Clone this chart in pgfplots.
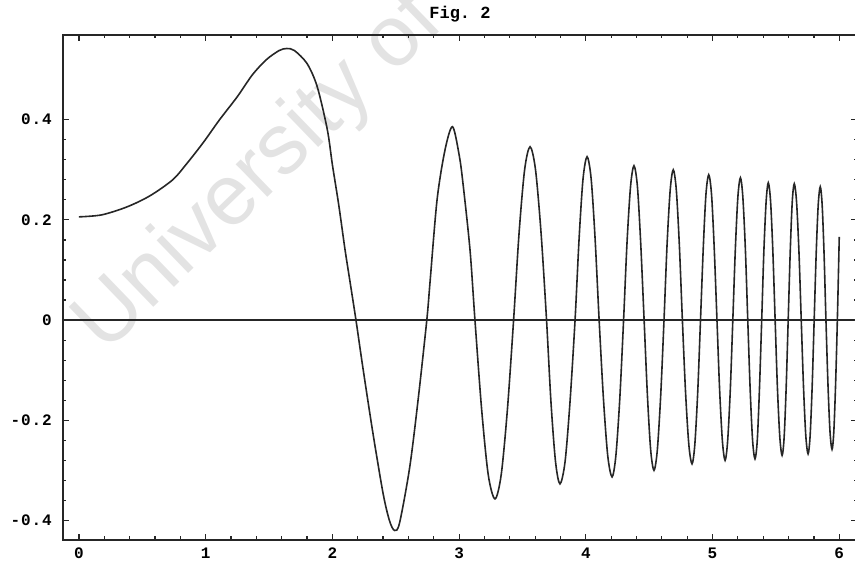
\documentclass[border=0pt]{standalone}
\usepackage{fontspec}
\setmainfont{Liberation Mono}
\newfontfamily\wmfont{Liberation Sans}
\newfontfamily\tickfont[LetterSpace=6]{Liberation Mono}
\usepackage{pgfplots}
\pgfplotsset{compat=1.18}
\begin{document}
\begin{tikzpicture}[x=1pt,y=1pt]
\node[rotate=44, text=black!11, font=\wmfont\fontsize{86}{86}\selectfont, inner sep=0pt] at (197,366) {University of};
\begin{axis}[
  at={(0,0)}, anchor=south west,
  scale only axis, width=794pt, height=505pt,
  xmin=-0.126, xmax=6.14, ymin=-0.439, ymax=0.569,
  axis line style={line width=1.4pt, black!85},
  xtick={0,1,2,3,4,5,6},
  xticklabels={0,1,2,3,4,5,6},
  ytick={-0.4,-0.2,0,0.2,0.4},
  yticklabels={-0.4,-0.2,0,0.2,0.4},
  minor x tick num=4, minor y tick num=4,
  major tick length=6pt, minor tick length=3.5pt,
  tick style={line width=1.2pt, black!85},
  tick align=inside,
  yticklabel style={font=\tickfont\bfseries\fontsize{16}{16}\selectfont, inner sep=0pt, xshift=-11pt, anchor=east},
  xticklabel style={font=\tickfont\bfseries\fontsize{16}{16}\selectfont, inner sep=0pt, yshift=-8pt, anchor=north},
  title={Fig.\ 2},
  title style={font=\bfseries\fontsize{17}{17}\selectfont, at={(0.5,1)}, anchor=base, yshift=10pt},
  clip=true,
]
\addplot[black!85, line width=1.5pt] coordinates {(-0.126,0) (6.14,0)};
\addplot[black!85, line width=1.6pt, smooth, tension=0.5] coordinates {
(0,0.206) (0.18,0.21) (0.38,0.226) (0.56,0.248) (0.74,0.28) (0.85,0.312) (0.98,0.354) (1.11,0.40) (1.25,0.446) (1.37,0.49) (1.48,0.52) (1.58,0.538) (1.64,0.542) (1.70,0.538) (1.80,0.512) (1.88,0.466) (1.96,0.38) (2.0,0.31) (2.05,0.23) (2.10,0.14) (2.14,0.075) (2.186,0)
(2.24,-0.094) (2.32,-0.226) (2.40,-0.346) (2.45,-0.40) (2.49,-0.42) (2.53,-0.405) (2.61,-0.294) (2.676,-0.16) (2.745,0)
(2.77,0.074) (2.826,0.24) (2.889,0.34) (2.948,0.386) (3.0,0.33) (3.03,0.274) (3.086,0.14) (3.125,0)
(3.178,-0.179) (3.230,-0.309) (3.283,-0.357) (3.332,-0.309) (3.381,-0.179) (3.43,0)
(3.473,0.173) (3.517,0.300) (3.56,0.346) (3.603,0.300) (3.647,0.173) (3.69,0)
(3.725,-0.164) (3.761,-0.283) (3.796,-0.327) (3.836,-0.283) (3.875,-0.164) (3.915,0)
(3.947,0.163) (3.978,0.282) (4.01,0.326) (4.042,0.282) (4.073,0.163) (4.105,0)
(4.139,-0.157) (4.173,-0.271) (4.207,-0.313) (4.237,-0.271) (4.268,-0.157) (4.298,0)
(4.325,0.154) (4.353,0.267) (4.38,0.308) (4.407,0.267) (4.433,0.154) (4.46,0)
(4.486,-0.15) (4.512,-0.26) (4.538,-0.30) (4.564,-0.26) (4.591,-0.15) (4.617,0)
(4.641,0.15) (4.666,0.26) (4.69,0.30) (4.714,0.26) (4.738,0.15) (4.762,0)
(4.787,-0.144) (4.813,-0.249) (4.838,-0.287) (4.860,-0.249) (4.883,-0.144) (4.905,0)
(4.927,0.145) (4.948,0.251) (4.97,0.29) (4.992,0.251) (5.013,0.145) (5.035,0)
(5.056,-0.14) (5.078,-0.242) (5.099,-0.28) (5.119,-0.242) (5.140,-0.14) (5.16,0)
(5.18,0.142) (5.20,0.246) (5.22,0.284) (5.239,0.246) (5.259,0.142) (5.278,0)
(5.297,-0.139) (5.316,-0.24) (5.335,-0.277) (5.353,-0.24) (5.370,-0.139) (5.388,0)
(5.405,0.137) (5.423,0.237) (5.44,0.274) (5.458,0.237) (5.476,0.137) (5.494,0)
(5.512,-0.135) (5.531,-0.234) (5.549,-0.27) (5.565,-0.234) (5.581,-0.135) (5.597,0)
(5.613,0.136) (5.629,0.236) (5.645,0.272) (5.663,0.236) (5.682,0.136) (5.70,0)
(5.718,-0.134) (5.736,-0.231) (5.754,-0.267) (5.770,-0.231) (5.786,-0.134) (5.802,0)
(5.818,0.133) (5.834,0.23) (5.85,0.266) (5.865,0.23) (5.880,0.133) (5.895,0)
(5.911,-0.129) (5.927,-0.223) (5.943,-0.258) (5.957,-0.223) (5.971,-0.129) (5.985,0) (6.0,0.166)
};
\end{axis}
\pgfresetboundingbox
\path[use as bounding box] (-63,-22) rectangle (792,540);
\end{tikzpicture}
\end{document}
